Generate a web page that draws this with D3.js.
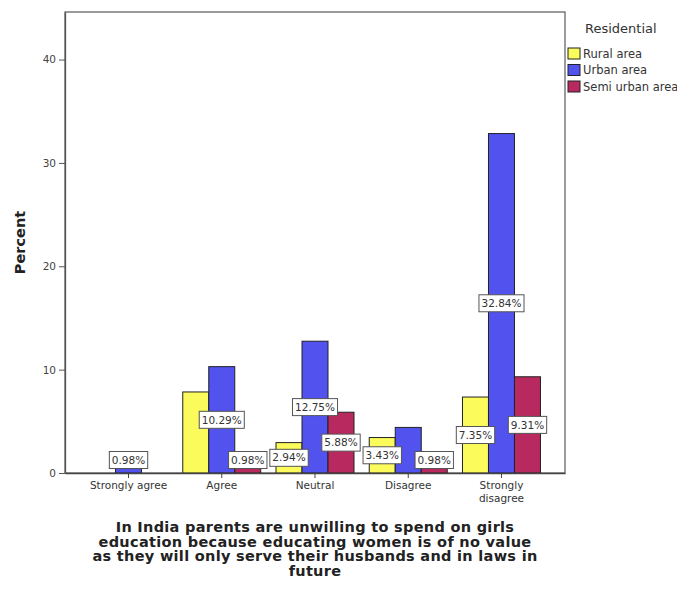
<!DOCTYPE html>
<html>
<head>
<meta charset="utf-8">
<script src="https://cdn.jsdelivr.net/npm/d3@7"></script>
<style>
  html, body { margin: 0; padding: 0; background: #fff; }
  svg { display: block; }
</style>
</head>
<body>
<div id="chart"></div>
<script>
// Agreement categories on the x axis
const categories = ["Strongly agree", "Agree", "Neutral", "Disagree", "Strongly disagree"];
// Residential groups (clustered series)
const seriesNames = ["Rural area", "Urban area", "Semi urban area"];
const seriesColors = ["#fbfb5c", "#5252ef", "#b8295f"];
// Percent of respondents per category, one array per series
const rural = [0, 7.84, 2.94, 3.43, 7.35];
const urban = [0.98, 10.29, 12.75, 4.41, 32.84];
const semiUrban = [0, 0.98, 5.88, 0.98, 9.31];
// Which bars carry a value label
const ruralLabeled = [false, false, true, true, true];
const urbanLabeled = [true, true, true, false, true];
const semiLabeled = [false, true, true, true, true];
const yTicks = [0, 10, 20, 30, 40];
const yTitle = "Percent";
const xTitleLines = [
  "In India parents are unwilling to spend on girls",
  "education because educating women is of no value",
  "as they will only serve their husbands and in laws in",
  "future"
];
const legendTitle = "Residential";

const seriesValues = [rural, urban, semiUrban];
const seriesLabeled = [ruralLabeled, urbanLabeled, semiLabeled];

const W = 677, H = 591;
const plot = { left: 65, right: 565, top: 12, bottom: 473 };

const svg = d3.select("#chart").append("svg")
  .attr("width", W).attr("height", H);

const x = d3.scaleBand()
  .domain(categories)
  .range([plot.left, plot.right])
  .paddingInner(0.1635)
  .paddingOuter(0.263);

const xSub = d3.scaleBand()
  .domain(seriesNames)
  .range([0, x.bandwidth()]);

const y = d3.scaleLinear()
  .domain([0, 44.6])
  .range([plot.bottom, plot.top]);

const font = "DejaVu Sans, Verdana, sans-serif";

// Plot frame
svg.append("rect")
  .attr("x", plot.left).attr("y", plot.top)
  .attr("width", plot.right - plot.left)
  .attr("height", plot.bottom - plot.top)
  .attr("fill", "none")
  .attr("stroke", "#666").attr("stroke-width", 1.3);

// Bars
const barData = [];
seriesNames.forEach((s, si) => {
  categories.forEach((c, ci) => {
    barData.push({ series: s, si, cat: c, value: seriesValues[si][ci], labeled: seriesLabeled[si][ci] });
  });
});

svg.append("g").selectAll("rect")
  .data(barData.filter(d => d.value > 0))
  .join("rect")
  .attr("x", d => x(d.cat) + xSub(d.series))
  .attr("y", d => y(d.value))
  .attr("width", xSub.bandwidth())
  .attr("height", d => y(0) - y(d.value))
  .attr("fill", d => seriesColors[d.si])
  .attr("stroke", "#222").attr("stroke-width", 1);

// Y axis
const yAxis = d3.axisLeft(y).tickValues(yTicks).tickSize(6).tickSizeOuter(0).tickPadding(3);
const gy = svg.append("g")
  .attr("transform", `translate(${plot.left},0)`)
  .call(yAxis);
gy.select(".domain").attr("stroke", "#555").attr("stroke-width", 1.3);
gy.selectAll(".tick line").attr("stroke", "#555");
gy.selectAll(".tick text").attr("font-family", font).attr("font-size", 10.5).attr("fill", "#444");

// X axis
const xAxis = d3.axisBottom(x).tickSize(5).tickSizeOuter(0).tickPadding(4);
const gx = svg.append("g")
  .attr("transform", `translate(0,${plot.bottom})`)
  .call(xAxis);
gx.select(".domain").attr("stroke", "#444").attr("stroke-width", 1.3);
gx.selectAll(".tick line").attr("stroke", "#444");
gx.selectAll(".tick text")
  .attr("font-family", font).attr("font-size", 10.5).attr("fill", "#333")
  .each(function(d) {
    const t = d3.select(this);
    if (d === "Strongly disagree") {
      t.text(null);
      t.append("tspan").attr("x", 0).attr("dy", "0.71em").text("Strongly");
      t.append("tspan").attr("x", 0).attr("dy", "1.2em").text("disagree");
      t.attr("dy", null);
    }
  });

// Value labels in boxed tags, placed at the bar's middle but kept above the axis
const fmt = v => v.toFixed(2) + "%";
const labelG = svg.append("g");
barData.filter(d => d.labeled).forEach(d => {
  const cx = x(d.cat) + xSub(d.series) + xSub.bandwidth() / 2;
  const mid = (y(d.value) + y(0)) / 2;
  const cy = Math.min(mid, plot.bottom - 13);
  const g = labelG.append("g").attr("transform", `translate(${cx},${cy})`);
  const txt = g.append("text")
    .attr("text-anchor", "middle")
    .attr("dy", "0.35em")
    .attr("font-family", font).attr("font-size", 10.5)
    .attr("fill", "#333")
    .text(fmt(d.value));
  const bb = txt.node().getBBox();
  g.insert("rect", "text")
    .attr("x", bb.x - 2.5).attr("y", -8.5)
    .attr("width", bb.width + 5).attr("height", 17)
    .attr("fill", "#fff")
    .attr("stroke", "#555").attr("stroke-width", 1);
});

// Y axis title
svg.append("text")
  .attr("transform", `translate(25,${(plot.top + plot.bottom) / 2}) rotate(-90)`)
  .attr("text-anchor", "middle")
  .attr("font-family", font).attr("font-size", 14.5).attr("font-weight", "bold")
  .attr("fill", "#222")
  .text(yTitle);

// X axis title
const xt = svg.append("text")
  .attr("text-anchor", "middle")
  .attr("font-family", font).attr("font-size", 14.5).attr("font-weight", "bold")
  .attr("letter-spacing", 0.3)
  .attr("fill", "#222");
xTitleLines.forEach((line, i) => {
  xt.append("tspan")
    .attr("x", (plot.left + plot.right) / 2)
    .attr("y", 532 + i * 14.5)
    .text(line);
});

// Legend
const leg = svg.append("g");
leg.append("text")
  .attr("x", 585).attr("y", 33)
  .attr("font-family", font).attr("font-size", 13).attr("fill", "#333")
  .text(legendTitle);
seriesNames.forEach((s, i) => {
  const ly = 48 + i * 16.5;
  leg.append("rect")
    .attr("x", 568).attr("y", ly)
    .attr("width", 12).attr("height", 11)
    .attr("fill", seriesColors[i])
    .attr("stroke", "#222").attr("stroke-width", 1);
  leg.append("text")
    .attr("x", 583).attr("y", ly + 5.5)
    .attr("dy", "0.35em")
    .attr("font-family", font).attr("font-size", 11.5).attr("fill", "#333")
    .text(s);
});
</script>
</body>
</html>
